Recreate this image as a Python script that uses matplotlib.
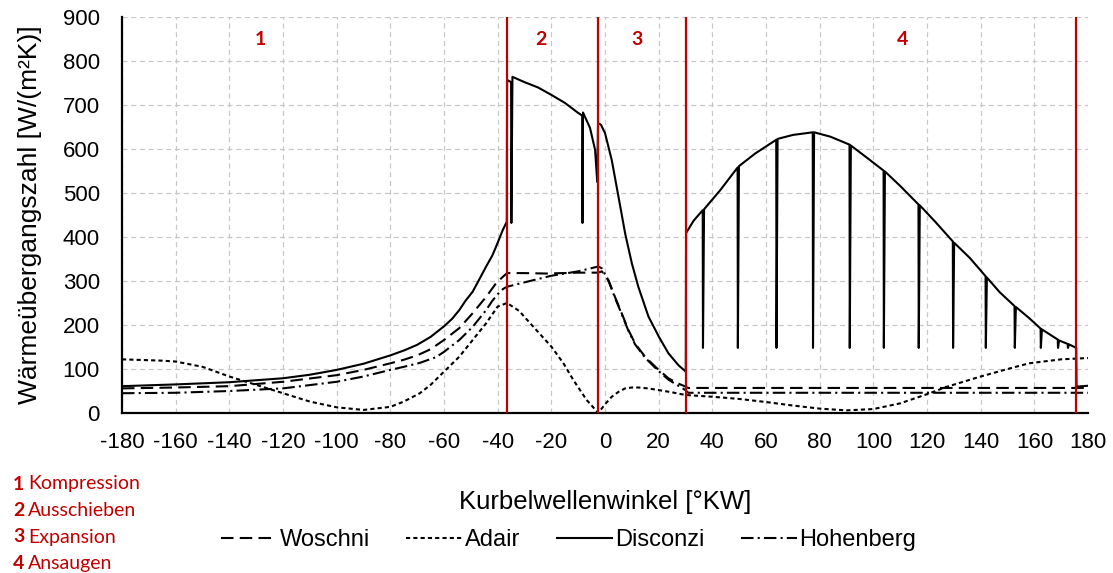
import matplotlib
matplotlib.use("Agg")
import matplotlib.pyplot as plt

plt.rcParams['font.family'] = ['Liberation Sans', 'DejaVu Sans']
plt.rcParams['axes.unicode_minus'] = False

# Woschni
angle_w = [-180, -160, -140, -120, -100, -90, -80, -75, -70, -65, -60, -54.3, -49.3, -44.3, -40.6, -38,
           -36.5, -30, -22, -10, -2.5, -1.2, 1.3, 3.7, 6.2, 8.7, 11.2, 14.9, 19.3, 23.6, 27.3, 30, 31,
           60, 100, 140, 180]
woschni = [56, 58, 61, 71, 86, 98, 113, 121, 131, 145, 166, 193, 227, 264, 295, 310,
           318, 318, 317, 319, 319, 322, 302, 264, 227, 189, 158, 128, 102, 79, 67, 60, 57,
           57, 57, 57, 57]

# Adair
angle_a = [-180, -165, -160, -150, -140, -130, -120, -110, -100, -90, -80, -75, -69, -65, -60, -54.3,
           -49.3, -44.3, -40, -36.5, -32, -27.9, -20, -15.5, -11.8, -6.9, -2.5, 0, 2.5, 5, 7.5, 10,
           12.4, 16, 20.1, 25, 30, 40, 50, 60, 70, 80, 90, 100, 110, 121, 127, 140, 150, 158, 170, 180]
adair = [122, 119, 117, 105, 83, 64, 45, 26, 13, 7, 14, 26, 45, 64, 94, 128,
         166, 204, 242, 250, 232, 204, 151, 113, 75, 30, 0, 20, 37, 48, 56, 58,
         58, 56, 52, 47, 41, 37, 32, 25, 17, 10, 6, 9, 22, 45, 59, 83, 100, 113, 122, 125]

# Disconzi (incl. the vertical drop-outs of the simulation output)
angle_d = [-180, -160, -140, -120, -110, -100, -90, -80, -75, -70, -65, -60, -57, -54.3, -52,
           -49.3, -47, -44.3, -42, -40.6, -38.1, -36.9, -36.6,
           -36.5, -35, -34.9, -34.5, -30, -25, -20, -15, -10, -8.5, -8.4, -8.2, -5.6, -3.7,
           -2.9, -2.6, -1.5, 0, 2.5, 5, 7.5, 10, 12.4, 16.2, 20.1, 23.6, 27.3, 30.1,
           30.2, 33, 36.4, 36.5, 36.9, 43, 49.4, 49.5, 49.9, 56, 63.8, 63.9, 64.3, 70,
           77.4, 77.5, 77.9, 84, 91.1, 91.2, 91.6, 97, 103.8, 103.9, 104.3, 110,
           116.8, 116.9, 117.3, 123, 129.6, 129.7, 130.1, 136, 141.8, 141.9, 142.3, 147,
           152.6, 152.7, 153.1, 158, 162.3, 162.4, 162.8, 168.7, 168.8, 169.2,
           172.4, 172.5, 172.9, 175.6, 175.7, 180]
disconzi = [61, 65, 70, 79, 87, 98, 112, 131, 142, 155, 173, 197, 214, 234, 255,
            276, 302, 333, 358, 378, 416, 431, 435,
            757, 752, 432, 764, 752, 740, 723, 705, 682, 676, 432, 683, 648, 598,
            525, 659, 655, 636, 575, 492, 408, 340, 287, 219, 173, 136, 109, 94,
            409, 437, 461, 148, 463, 507, 558, 148, 561, 590, 621, 148, 623, 632,
            638, 148, 638, 628, 610, 148, 608, 583, 551, 148, 549, 516,
            474, 148, 472, 435, 390, 148, 387, 352, 311, 148, 308, 275,
            243, 148, 241, 216, 192, 148, 190, 167, 148, 165,
            157, 148, 156, 148, 60, 62]

# Hohenberg
angle_h = [-180, -160, -140, -120, -100, -90, -80, -75, -69, -63, -60, -54.3, -49.3, -44.3, -42, -40,
           -38, -36.5, -30, -20, -10, -2.5, -1.2, 1.3, 3.7, 6.2, 8.7, 11.2, 14.9, 19.3, 23.6, 27.3,
           30, 31, 60, 100, 140, 180]
hohenberg = [45, 46, 50, 56, 71, 83, 98, 105, 114, 127, 139, 166, 196, 234, 255, 270,
             282, 287, 297, 312, 322, 333, 329, 300, 262, 225, 187, 156, 126, 99, 76, 62,
             52, 46, 46, 46, 46, 46]

phase_bounds = [-36.5, -2.5, 30.2, 175.6]
phase_nums = ['1', '2', '3', '4']
phase_num_x = [-128.6, -23.8, 12, 111]
phase_names = ['Kompression', 'Ausschieben', 'Expansion', 'Ansaugen']

red = '#C00000'

fig = plt.figure(figsize=(11.13, 5.73), dpi=100)
ax = fig.add_axes([0.1096, 0.2792, 0.868, 0.6911])

ax.plot(angle_w, woschni, color='black', lw=1.5, dashes=(6, 3), label='Woschni')
ax.plot(angle_a, adair, color='black', lw=1.5, dashes=(2, 1.5), label='Adair')
ax.plot(angle_d, disconzi, color='black', lw=1.5, label='Disconzi')
ax.plot(angle_h, hohenberg, color='black', lw=1.5, dashes=(6, 2, 1, 2), label='Hohenberg')

for xb in phase_bounds:
    ax.axvline(xb, color=red, lw=1.6, zorder=3)
for n, xn in zip(phase_nums, phase_num_x):
    ax.text(xn, 850, n, color=red, fontsize=14, fontweight='bold', family='Lato',
            ha='center', va='center')

ax.set_xlim(-180, 180)
ax.set_ylim(0, 900)
ax.set_xticks(range(-180, 181, 20))
ax.set_yticks(range(0, 901, 100))
ax.tick_params(length=0, labelsize=16)
ax.tick_params(axis='x', pad=14)
ax.tick_params(axis='y', pad=16)
ax.grid(True, color='#C8C8C8', ls=(0, (4, 3)), lw=0.9)
ax.set_axisbelow(True)
for s in ['top', 'right']:
    ax.spines[s].set_visible(False)
for s in ['left', 'bottom']:
    ax.spines[s].set_linewidth(1.6)

ax.set_xlabel('Kurbelwellenwinkel [°KW]', fontsize=18.5, labelpad=26)
ax.set_ylabel('Wärmeübergangszahl [W/(m²K)]', fontsize=19, labelpad=15)

fig.legend(loc='center', bbox_to_anchor=(0.511, 0.058), ncol=4, frameon=False,
           fontsize=17, handlelength=2.35, handletextpad=0.12, columnspacing=1.55)

for i, (n, name) in enumerate(zip(phase_nums, phase_names)):
    yy = 1 - (484 + i * 26.5) / 573
    fig.text(13 / 1113, yy, n, color=red, fontsize=14, fontweight='bold', family='Lato',
             va='center')
    fig.text(28 / 1113, yy, name, color=red, fontsize=14, family='Lato', va='center')

fig.savefig('out.png', dpi=100)
